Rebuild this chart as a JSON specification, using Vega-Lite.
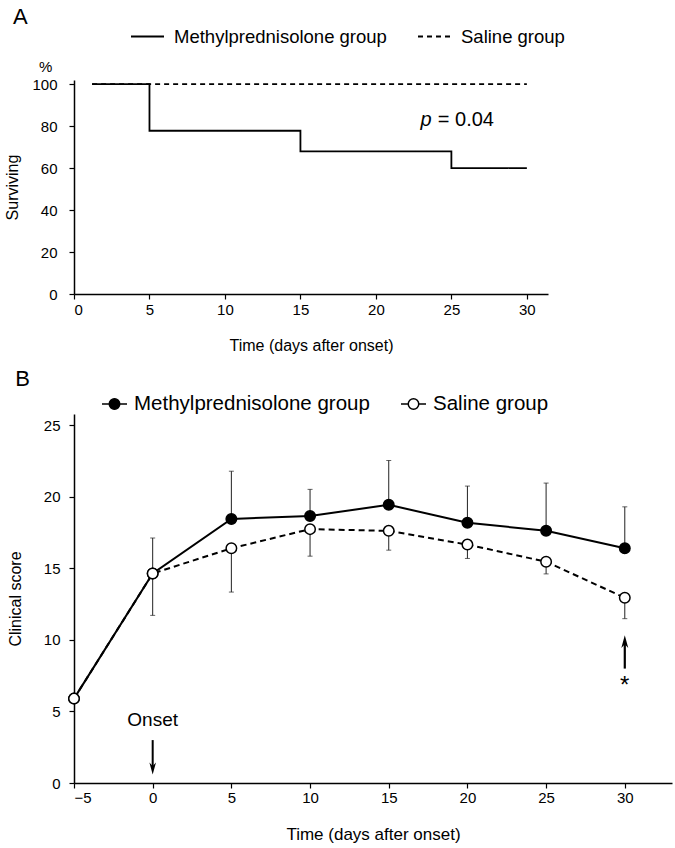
{
  "$schema": "https://vega.github.io/schema/vega-lite/v6.json",
  "padding": {"top": 6, "left": 4, "right": 2, "bottom": 4},
  "background": "white",
  "bounds": "flush",
  "spacing": 120,
  "resolve": {
    "scale": {"strokeDash": "independent", "fill": "independent"},
    "legend": {"strokeDash": "independent", "fill": "independent"}
  },
  "config": {
    "view": {"stroke": null},
    "font": "Liberation Sans",
    "axis": {
      "grid": false,
      "domainColor": "black",
      "domainWidth": 1.5,
      "tickColor": "black",
      "tickWidth": 1.2,
      "tickSize": 5,
      "labelColor": "black",
      "titleColor": "black",
      "titleFontWeight": "normal",
      "labelFont": "Liberation Sans",
      "titleFont": "Liberation Sans"
    },
    "legend": {"labelFont": "Liberation Sans", "labelLimit": 0},
    "title": {"fontWeight": "normal", "color": "black", "font": "Liberation Sans"}
  },
  "datasets": {
    "surv": [
      {"day": 1.2, "pct": 100, "group": "Saline group"},
      {"day": 30, "pct": 100, "group": "Saline group"},
      {"day": 1.2, "pct": 100, "group": "Methylprednisolone group"},
      {"day": 5, "pct": 77.8, "group": "Methylprednisolone group"},
      {"day": 15, "pct": 68, "group": "Methylprednisolone group"},
      {"day": 25, "pct": 60, "group": "Methylprednisolone group"},
      {"day": 30, "pct": 60, "group": "Methylprednisolone group"}
    ],
    "score": [
      {"day": -5, "score": 5.9, "group": "Methylprednisolone group"},
      {"day": 0, "score": 14.65, "group": "Methylprednisolone group", "lo": 14.65, "hi": 17.13, "cap": 17.13},
      {"day": 5, "score": 18.46, "group": "Methylprednisolone group", "lo": 18.46, "hi": 21.8, "cap": 21.8},
      {"day": 10, "score": 18.67, "group": "Methylprednisolone group", "lo": 18.67, "hi": 20.53, "cap": 20.53},
      {"day": 15, "score": 19.45, "group": "Methylprednisolone group", "lo": 19.45, "hi": 22.55, "cap": 22.55},
      {"day": 20, "score": 18.2, "group": "Methylprednisolone group", "lo": 18.2, "hi": 20.76, "cap": 20.76},
      {"day": 25, "score": 17.63, "group": "Methylprednisolone group", "lo": 17.63, "hi": 20.97, "cap": 20.97},
      {"day": 30, "score": 16.41, "group": "Methylprednisolone group", "lo": 16.41, "hi": 19.31, "cap": 19.31},
      {"day": -5, "score": 5.9, "group": "Saline group"},
      {"day": 0, "score": 14.65, "group": "Saline group", "lo": 11.72, "hi": 14.65, "cap": 11.72},
      {"day": 5, "score": 16.41, "group": "Saline group", "lo": 13.35, "hi": 16.41, "cap": 13.35},
      {"day": 10, "score": 17.75, "group": "Saline group", "lo": 15.86, "hi": 17.75, "cap": 15.86},
      {"day": 15, "score": 17.63, "group": "Saline group", "lo": 16.28, "hi": 17.63, "cap": 16.28},
      {"day": 20, "score": 16.67, "group": "Saline group", "lo": 15.7, "hi": 16.67, "cap": 15.7},
      {"day": 25, "score": 15.47, "group": "Saline group", "lo": 14.62, "hi": 15.47, "cap": 14.62},
      {"day": 30, "score": 12.95, "group": "Saline group", "lo": 11.49, "hi": 12.95, "cap": 11.49}
    ]
  },
  "vconcat": [
    {
      "title": {"text": "A", "anchor": "start", "frame": "bounds", "fontSize": 22, "offset": -10, "dx": 8},
      "width": 474,
      "height": 214,
      "layer": [
        {
          "data": {"name": "surv"},
          "mark": {"type": "line", "interpolate": "step-after", "color": "black", "strokeWidth": 1.8},
          "encoding": {
            "x": {"field": "day", "type": "quantitative",
                  "scale": {"domain": [0, 31.4], "nice": false, "zero": false},
                  "axis": {"values": [0, 5, 10, 15, 20, 25, 30], "title": "Time (days after onset)", "labelFontSize": 15, "titleFontSize": 16, "labelPadding": 3, "titlePadding": 20}},
            "y": {"field": "pct", "type": "quantitative",
                  "scale": {"domain": [0, 102], "nice": false},
                  "axis": {"values": [0, 20, 40, 60, 80, 100], "title": "Surviving", "labelFontSize": 15, "titleFontSize": 16, "labelPadding": 12, "titlePadding": 11}},
            "strokeDash": {"field": "group", "type": "nominal",
                  "scale": {"domain": ["Methylprednisolone group", "Saline group"], "range": [[1, 0], [5, 4]]},
                  "legend": {"orient": "none", "legendX": 56, "legendY": -61, "direction": "horizontal", "title": null,
                             "symbolType": "stroke", "symbolSize": 1089, "symbolStrokeColor": "black", "symbolStrokeWidth": 1.8,
                             "labelFontSize": 18.5, "labelColor": "black", "labelOffset": 9, "columnPadding": 27}},
            "detail": {"field": "group"}
          }
        },
        {
          "data": {"values": [{}]},
          "mark": {"type": "text", "text": "%", "fontSize": 15, "align": "center", "baseline": "middle", "color": "black"},
          "encoding": {"x": {"datum": -1.87}, "y": {"datum": 108.3}}
        },
        {
          "data": {"values": [{}]},
          "mark": {"type": "text", "text": "p", "fontSize": 20, "fontStyle": "italic", "align": "left", "baseline": "middle", "color": "black"},
          "encoding": {"x": {"datum": 22.95}, "y": {"datum": 83}}
        },
        {
          "data": {"values": [{}]},
          "mark": {"type": "text", "text": "= 0.04", "fontSize": 20, "align": "left", "baseline": "middle", "color": "black"},
          "encoding": {"x": {"datum": 24.1}, "y": {"datum": 83}}
        }
      ]
    },
    {
      "title": {"text": "B", "anchor": "start", "frame": "bounds", "fontSize": 22, "offset": 0, "dx": 8},
      "width": 598,
      "height": 369,
      "layer": [
        {
          "data": {"name": "score"},
          "mark": {"type": "rule", "color": "#222", "strokeWidth": 1},
          "encoding": {
            "x": {"field": "day", "type": "quantitative",
                  "scale": {"domain": [-5, 33], "nice": false, "zero": false},
                  "axis": {"values": [-5, 0, 5, 10, 15, 20, 25, 30], "title": "Time (days after onset)", "labelFontSize": 15, "titleFontSize": 17, "labelPadding": 2, "titlePadding": 21}},
            "y": {"field": "lo", "type": "quantitative",
                  "scale": {"domain": [0, 25.8], "nice": false},
                  "axis": {"values": [0, 5, 10, 15, 20, 25], "title": "Clinical score", "labelFontSize": 15, "titleFontSize": 16, "labelPadding": 9, "titlePadding": 20}},
            "y2": {"field": "hi"}
          }
        },
        {
          "data": {"name": "score"},
          "mark": {"type": "tick", "orient": "horizontal", "color": "#222", "size": 5, "thickness": 1},
          "encoding": {
            "x": {"field": "day", "type": "quantitative"},
            "y": {"field": "cap", "type": "quantitative"}
          }
        },
        {
          "data": {"name": "score"},
          "transform": [{"filter": "datum.group === 'Saline group'"}],
          "mark": {"type": "line", "color": "black", "strokeWidth": 2, "strokeDash": [6, 4]},
          "encoding": {
            "x": {"field": "day", "type": "quantitative"},
            "y": {"field": "score", "type": "quantitative"},
            "order": {"field": "day"}
          }
        },
        {
          "data": {"name": "score"},
          "transform": [{"filter": "datum.group === 'Methylprednisolone group'"}],
          "mark": {"type": "line", "color": "black", "strokeWidth": 2},
          "encoding": {
            "x": {"field": "day", "type": "quantitative"},
            "y": {"field": "score", "type": "quantitative"},
            "order": {"field": "day"}
          }
        },
        {
          "data": {"name": "score"},
          "mark": {"type": "point", "filled": true, "stroke": "black", "strokeWidth": 1.5, "size": 110, "opacity": 1},
          "encoding": {
            "x": {"field": "day", "type": "quantitative"},
            "y": {"field": "score", "type": "quantitative"},
            "fill": {"field": "group", "type": "nominal",
                  "scale": {"domain": ["Methylprednisolone group", "Saline group"], "range": ["black", "white"]},
                  "legend": {"orient": "none", "legendX": 27, "legendY": -23.5, "direction": "horizontal", "title": null,
                             "symbolType": "M-1,0L-0.4,0M0.4,0L1,0M0.42,0A0.42,0.42,0,1,1,-0.42,0A0.42,0.42,0,1,1,0.42,0",
                             "symbolSize": 625, "symbolStrokeColor": "black", "symbolStrokeWidth": 1.5,
                             "labelFontSize": 20.5, "labelColor": "black", "labelOffset": 6, "columnPadding": 28}}
          }
        },
        {
          "data": {"values": [{}]},
          "mark": {"type": "text", "text": "Onset", "fontSize": 19, "align": "center", "baseline": "middle", "color": "black"},
          "encoding": {"x": {"datum": 0}, "y": {"datum": 4.4}}
        },
        {
          "data": {"values": [{}]},
          "mark": {"type": "rule", "color": "black", "strokeWidth": 2},
          "encoding": {"x": {"datum": 0}, "y": {"datum": 3.0}, "y2": {"datum": 1.1}}
        },
        {
          "data": {"values": [{}]},
          "mark": {"type": "point", "shape": "M-0.55,-1L0,1L0.55,-1L0,-0.4Z", "filled": true, "color": "black", "size": 144, "opacity": 1},
          "encoding": {"x": {"datum": 0}, "y": {"datum": 1.02}}
        },
        {
          "data": {"values": [{}]},
          "mark": {"type": "rule", "color": "black", "strokeWidth": 2.2},
          "encoding": {"x": {"datum": 30}, "y": {"datum": 8.0}, "y2": {"datum": 9.8}}
        },
        {
          "data": {"values": [{}]},
          "mark": {"type": "point", "shape": "M-0.55,1L0,-1L0.55,1L0,0.4Z", "filled": true, "color": "black", "size": 160, "opacity": 1},
          "encoding": {"x": {"datum": 30}, "y": {"datum": 9.88}}
        },
        {
          "data": {"values": [{}]},
          "mark": {"type": "text", "text": "*", "fontSize": 24, "align": "center", "baseline": "middle", "color": "black"},
          "encoding": {"x": {"datum": 30}, "y": {"datum": 6.8}}
        }
      ]
    }
  ]
}
